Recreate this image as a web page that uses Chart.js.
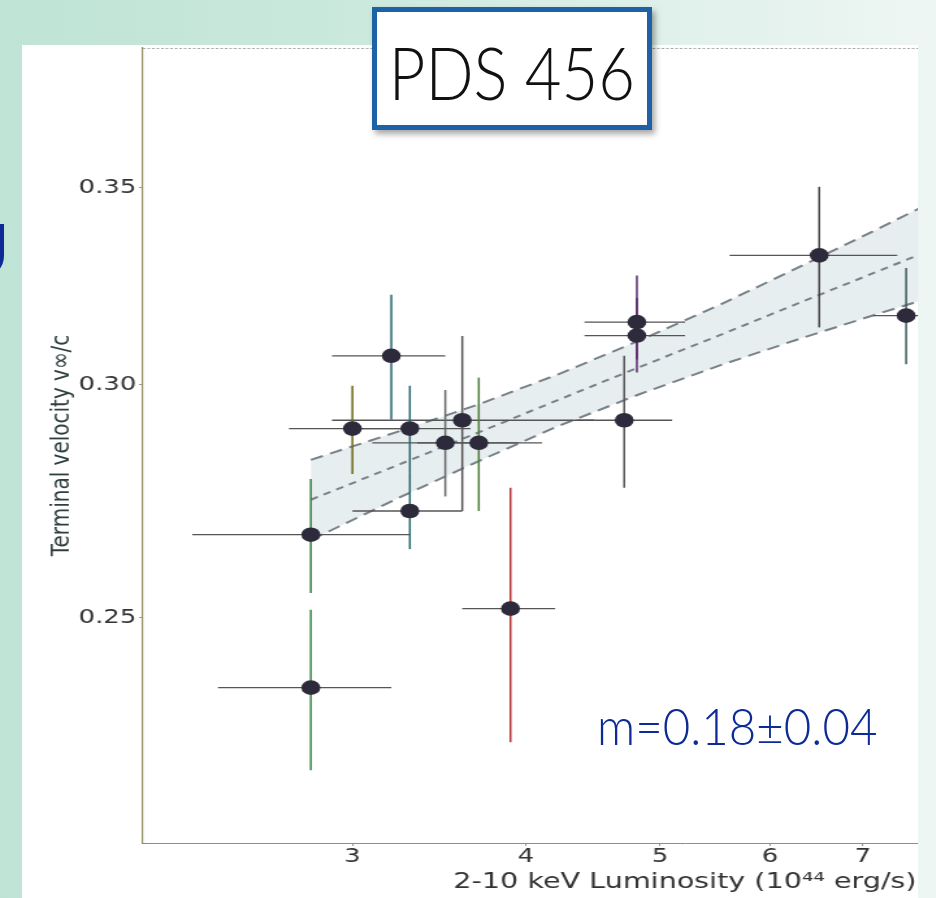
<!DOCTYPE html>
<html><head><meta charset="utf-8">
<script src="https://cdn.jsdelivr.net/npm/chart.js@4.4.1/dist/chart.umd.min.js"></script>
<style>
html,body{margin:0;padding:0;}
body{width:936px;height:898px;overflow:hidden;position:relative;
 background:linear-gradient(90deg,#bfe4d5 0%,#c9e8dc 35%,#dff0ea 70%,#eef6f3 100%);}
#panel{position:absolute;left:22px;top:45px;width:896px;height:853px;background:#fff;overflow:hidden;}
#c{position:absolute;left:0;top:0;transform:scaleX(1.3);transform-origin:0 0;}
#titlebox{position:absolute;left:372px;top:7px;width:280px;height:123px;box-sizing:border-box;border:5px solid #1d62a7;background:#fff;box-shadow:3px 4px 6px rgba(0,0,0,0.35);display:flex;align-items:center;justify-content:center;}
#titlebox span{font-family:Lato,'DejaVu Sans',sans-serif;font-weight:300;font-size:72px;color:#111;transform:scaleX(0.88);display:inline-block;white-space:nowrap;line-height:1;margin-top:6px;}
#slope{position:absolute;left:597px;top:700px;font-family:Lato,'DejaVu Sans',sans-serif;font-weight:300;font-size:51px;color:#0c2b95;transform:scaleX(0.93);transform-origin:0 0;white-space:nowrap;line-height:1;}
#edge{position:absolute;left:-43px;top:212px;font-family:Lato,'DejaVu Sans',sans-serif;font-size:72px;font-weight:400;color:#0c2b95;line-height:1;}
</style></head>
<body>
<div id="edge">U</div>
<div id="panel"><canvas id="c" width="960" height="853"></canvas></div>
<div id="titlebox"><span>PDS 456</span></div>
<div id="slope">m=0.18±0.04</div>
<script>
// ---- data ----
const lumX  = [2.80, 2.80, 3.00, 3.20, 3.30, 3.30, 3.50, 3.60, 3.70, 3.90, 4.71, 4.81, 4.81, 6.51, 7.52];
const velY  = [0.2668, 0.2367, 0.2899, 0.3069, 0.2899, 0.2718, 0.2867, 0.2918, 0.2867, 0.2518, 0.2918, 0.3151, 0.3118, 0.3320, 0.3167];
const lumLo = [2.30, 2.40, 2.70, 2.90, 3.01, 3.00, 3.10, 2.90, 3.34, 3.60, 4.35, 4.41, 4.41, 5.61, 7.12];
const lumHi = [3.30, 3.20, 3.33, 3.50, 3.65, 3.60, 3.95, 4.48, 4.11, 4.20, 5.10, 5.21, 5.21, 7.41, 7.97];
const velLo = [0.2549, 0.2219, 0.2798, 0.2919, 0.2802, 0.2638, 0.2749, 0.2718, 0.2718, 0.2268, 0.2768, 0.3060, 0.3029, 0.3138, 0.3049];
const velHi = [0.2787, 0.2516, 0.2998, 0.3219, 0.2998, 0.2802, 0.2988, 0.3117, 0.3017, 0.2768, 0.3069, 0.3268, 0.3211, 0.3503, 0.3287];
const barColors = ['#2f7d3c','#2f873c','#6f6a1a','#2b6b70','#2a6670','#2a6670','#666666','#555555','#4d7d3a','#b83232','#555555','#5a2a6a','#5a2a6a','#444444','#3c5a5a'];

const bandX   = [2.80, 3.25, 3.71, 4.23, 4.83, 5.52, 6.30, 7.20, 8.22];
const bandMid = [0.2742, 0.2820, 0.2892, 0.2966, 0.3042, 0.3119, 0.3199, 0.3281, 0.3364];
const bandUp  = [0.2829, 0.2894, 0.2956, 0.3026, 0.3106, 0.3194, 0.3290, 0.3392, 0.3499];
const bandLo  = [0.2657, 0.2748, 0.2828, 0.2906, 0.2978, 0.3046, 0.3110, 0.3173, 0.3235];

const xTicks = [3, 4, 5, 6, 7];
const yTicks = [0.25, 0.30, 0.35];
const xRange = [2.119, 12.81];
const yRange = [0.2096, 0.3905];

// ---- datasets ----
const datasets = [];
datasets.push({type:'scatter', data: lumX.map((x,i)=>({x:x, y:velY[i]})), pointRadius:7.3, pointHoverRadius:7.3,
  pointBackgroundColor:'#2d2a3c', pointBorderWidth:0, showLine:false, order:0});
lumX.forEach((x,i)=>{
  datasets.push({type:'line', data:[{x:x,y:velLo[i]},{x:x,y:velHi[i]}], borderColor:barColors[i], borderWidth:1.5,
    pointRadius:0, fill:false, tension:0, order:1});
});
lumX.forEach((x,i)=>{
  datasets.push({type:'line', data:[{x:lumLo[i],y:velY[i]},{x:lumHi[i],y:velY[i]}], borderColor:'#555555', borderWidth:1.3,
    pointRadius:0, fill:false, tension:0, order:2});
});
const bandStyle = {type:'line', borderColor:'#7b8189', borderWidth:2, pointRadius:0, tension:0, order:3};
datasets.push(Object.assign({}, bandStyle, {data: bandX.map((x,i)=>({x:x,y:bandUp[i]})), borderDash:[10,6], fill:'+1', backgroundColor:'#e7eef0'}));
datasets.push(Object.assign({}, bandStyle, {data: bandX.map((x,i)=>({x:x,y:bandLo[i]})), borderDash:[10,6], fill:false}));
datasets.push(Object.assign({}, bandStyle, {data: bandX.map((x,i)=>({x:x,y:bandMid[i]})), borderDash:[6,5], fill:false}));

const frame = {id:'frame', afterDraw(chart){
  const {ctx, chartArea:a} = chart;
  ctx.save(); ctx.strokeStyle='#a8a8a8'; ctx.lineWidth=1.2; ctx.setLineDash([2,1.5]);
  ctx.beginPath(); ctx.moveTo(a.left, a.top+0.5); ctx.lineTo(a.right, a.top+0.5);
  ctx.moveTo(a.right-0.5, a.top); ctx.lineTo(a.right-0.5, a.bottom); ctx.stroke(); ctx.restore();
}};

const noPad = s => { s.paddingTop = 0; s.paddingBottom = 0; s.paddingLeft = 0; s.paddingRight = 0; };
const tickFont = {family:'DejaVu Sans', size:20, lineHeight:1};
new Chart(document.getElementById('c'), {
  type:'scatter',
  data:{datasets},
  plugins:[frame],
  options:{
    responsive:false, animation:false, devicePixelRatio:1,
    layout:{autoPadding:false, padding:{left:0,right:33,top:3,bottom:0}},
    plugins:{legend:{display:false}, tooltip:{enabled:false}, filler:{drawTime:'beforeDatasetsDraw'}},
    events:[],
    scales:{
      x:{type:'logarithmic', position:'bottom', min:xRange[0], max:xRange[1],
        afterBuildTicks:s=>{s.ticks = xTicks.map(v=>({value:v}));},
        afterFit:s=>{s.height=55; noPad(s);},
        ticks:{callback:v=>String(v), color:'#333', font:tickFont, padding:1, maxRotation:0, autoSkip:false},
        grid:{display:true, drawOnChartArea:false, drawTicks:true, tickLength:3, color:'#999'},
        border:{display:true, color:'#8c8c8c', width:1},
        title:{display:true, text:'2-10 keV Luminosity (10⁴⁴ erg/s)', color:'#333', font:{family:'DejaVu Sans', size:22}, padding:{top:0,bottom:3}}
      },
      y:{type:'logarithmic', position:'left', min:yRange[0], max:yRange[1],
        afterBuildTicks:s=>{s.ticks = yTicks.map(v=>({value:v}));},
        afterFit:s=>{s.width=93; noPad(s);},
        ticks:{callback:v=>Number(v).toFixed(2), color:'#333', font:tickFont, padding:2, autoSkip:false},
        grid:{display:true, drawOnChartArea:false, drawTicks:true, tickLength:3, color:'#999'},
        border:{display:true, color:'#8b8b55', width:1.2},
        title:{display:true, text:'Terminal velocity v∞/c', color:'#2f3f3f', font:{family:'DejaVu Sans', size:20}, padding:{top:19,bottom:0}}
      }
    }
  }
});
</script>
</body></html>
